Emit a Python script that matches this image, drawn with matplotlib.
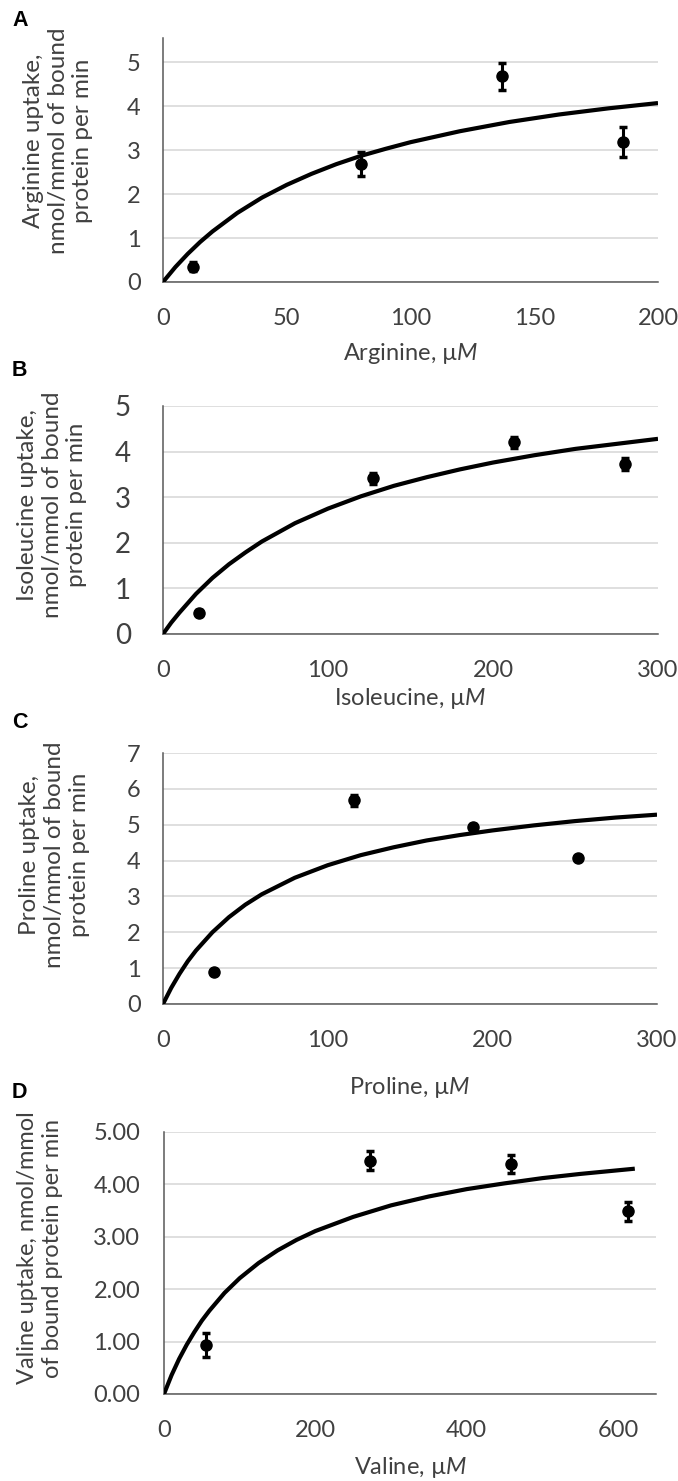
import matplotlib
matplotlib.use('Agg')
import matplotlib.pyplot as plt
from matplotlib.ticker import FormatStrFormatter

plt.rcParams['font.family'] = ['Lato', 'DejaVu Sans']
plt.rcParams['mathtext.fontset'] = 'custom'
plt.rcParams['mathtext.rm'] = 'Lato'
plt.rcParams['mathtext.it'] = 'Lato:italic'

# ---- data ----
# A: arginine
arg_conc = [12, 80, 137, 186]
arg_uptake = [0.35, 2.68, 4.68, 3.18]
arg_err = [0.10, 0.27, 0.31, 0.34]
arg_fit_x = [0, 5, 10, 15, 20, 30, 40, 50, 60, 70, 80, 90, 100, 120, 140, 160, 180, 200]
arg_fit_y = [0, 0.34, 0.64, 0.91, 1.15, 1.57, 1.92, 2.21, 2.46, 2.68, 2.87, 3.03, 3.18,
             3.43, 3.64, 3.81, 3.95, 4.07]

# B: isoleucine
ile_conc = [22, 127, 213, 280]
ile_uptake = [0.47, 3.42, 4.20, 3.73]
ile_err = [0.05, 0.12, 0.13, 0.14]
ile_fit_x = [0, 5, 10, 20, 30, 40, 50, 60, 80, 100, 120, 140, 160, 180, 200, 225, 250, 275, 300]
ile_fit_y = [0, 0.25, 0.47, 0.88, 1.23, 1.53, 1.79, 2.03, 2.43, 2.75, 3.02, 3.25, 3.44,
             3.61, 3.76, 3.92, 4.06, 4.17, 4.28]

# C: proline
pro_conc = [31, 116, 188, 252]
pro_uptake = [0.90, 5.68, 4.95, 4.07]
pro_err = [0.05, 0.15, 0.08, 0.05]
pro_fit_x = [0, 5, 10, 15, 20, 30, 40, 50, 60, 80, 100, 120, 140, 160, 180, 200, 225, 250, 275, 300]
pro_fit_y = [0, 0.45, 0.84, 1.19, 1.49, 2.00, 2.42, 2.77, 3.06, 3.52, 3.87, 4.15, 4.37,
             4.56, 4.71, 4.84, 4.98, 5.10, 5.20, 5.28]

# D: valine
val_conc = [55, 272, 458, 613]
val_uptake = [0.93, 4.45, 4.39, 3.49]
val_err = [0.23, 0.18, 0.17, 0.18]
val_fit_x = [0, 10, 20, 30, 40, 50, 60, 80, 100, 125, 150, 175, 200, 250, 300, 350, 400,
             450, 500, 550, 622]
val_fit_y = [0, 0.36, 0.67, 0.94, 1.18, 1.40, 1.59, 1.93, 2.21, 2.50, 2.74, 2.94, 3.11,
             3.38, 3.60, 3.77, 3.91, 4.02, 4.12, 4.20, 4.30]

W, H = 678, 1481
TXT = '#404040'


def add_axes_px(fig, left, right, top, bottom):
    """Place an axes using pixel coordinates of the reference image"""
    return fig.add_axes([left / W, 1 - bottom / H, (right - left) / W, (bottom - top) / H])


def draw_panel(ax, conc, uptake, err, fit_x, fit_y, xlim, ylim, xticks, yticks):
    ax.plot(fit_x, fit_y, color='black', lw=3, solid_capstyle='butt', zorder=3)
    ax.errorbar(conc, uptake, yerr=err, fmt='o', color='black', ms=8,
                elinewidth=2.2, capsize=3, capthick=2.5, zorder=4)
    ax.set_xlim(*xlim)
    ax.set_ylim(*ylim)
    ax.set_xticks(xticks)
    ax.set_yticks(yticks)
    ax.grid(axis='y', color='#d9d9d9', lw=1.2, zorder=0)
    ax.set_axisbelow(True)
    for side in ['top', 'right']:
        ax.spines[side].set_visible(False)
    for side in ['left', 'bottom']:
        ax.spines[side].set_color('#595959')
        ax.spines[side].set_linewidth(1.1)
    ax.tick_params(length=0, labelsize=17, labelcolor=TXT)
    ax.tick_params(axis='x', pad=19)


fig = plt.figure(figsize=(W / 100, H / 100), dpi=100)

# Panel A
ax = add_axes_px(fig, 163, 658, 38, 282)
draw_panel(ax, arg_conc, arg_uptake, arg_err, arg_fit_x, arg_fit_y,
           (0, 200), (0, 5.55), [0, 50, 100, 150, 200], [0, 1, 2, 3, 4, 5])
ax.tick_params(axis='y', pad=16)
ax.set_ylabel('Arginine uptake,\nnmol/mmol of bound\nprotein per min',
              fontsize=17.5, color=TXT, va='center', linespacing=1.22)
ax.yaxis.set_label_coords(-0.212, 0.58)
ax.set_xlabel(r'Arginine, µ$\mathit{M}$', fontsize=17, color=TXT, va='center')
ax.xaxis.set_label_coords(0.5, -0.291)

# Panel B
ax = add_axes_px(fig, 163, 658, 406, 634)
draw_panel(ax, ile_conc, ile_uptake, ile_err, ile_fit_x, ile_fit_y,
           (0, 300), (0, 5), [0, 100, 200, 300], [0, 1, 2, 3, 4, 5])
ax.tick_params(axis='y', pad=23, labelsize=20)
ax.set_ylabel('Isoleucine uptake,\nnmol/mmol of bound\nprotein per min',
              fontsize=17.5, color=TXT, va='center', linespacing=1.22)
ax.yaxis.set_label_coords(-0.224, 0.566)
ax.set_xlabel(r'Isoleucine, µ$\mathit{M}$', fontsize=17, color=TXT, va='center')
ax.xaxis.set_label_coords(0.5, -0.281)

# Panel C
ax = add_axes_px(fig, 163, 657, 753, 1004)
draw_panel(ax, pro_conc, pro_uptake, pro_err, pro_fit_x, pro_fit_y,
           (0, 300), (0, 7), [0, 100, 200, 300], [0, 1, 2, 3, 4, 5, 6, 7])
ax.tick_params(axis='y', pad=16)
ax.set_ylabel('Proline uptake,\nnmol/mmol of bound\nprotein per min',
              fontsize=17.5, color=TXT, va='center', linespacing=1.22)
ax.yaxis.set_label_coords(-0.220, 0.594)
ax.set_xlabel(r'Proline, µ$\mathit{M}$', fontsize=17, color=TXT, va='center')
ax.xaxis.set_label_coords(0.5, -0.331)

# Panel D
ax = add_axes_px(fig, 164, 656, 1132, 1394)
draw_panel(ax, val_conc, val_uptake, val_err, val_fit_x, val_fit_y,
           (0, 650), (0, 5), [0, 200, 400, 600], [0, 1, 2, 3, 4, 5])
ax.yaxis.set_major_formatter(FormatStrFormatter('%.2f'))
ax.tick_params(axis='y', pad=17)
ax.set_ylabel('Valine uptake, nmol/mmol\nof bound protein per min',
              fontsize=17, color=TXT, va='center', linespacing=1.25)
ax.yaxis.set_label_coords(-0.252, 0.557)
ax.set_xlabel(r'Valine, µ$\mathit{M}$', fontsize=17, color=TXT, va='center')
ax.xaxis.set_label_coords(0.5, -0.282)

# panel letters
for letter, ypx in [('A', 20), ('B', 370), ('C', 723), ('D', 1092)]:
    fig.text(12 / W, 1 - ypx / H, letter, fontsize=15.5, fontweight='bold',
             family='Liberation Sans', va='center', ha='left')

fig.savefig('out.png', dpi=100)
